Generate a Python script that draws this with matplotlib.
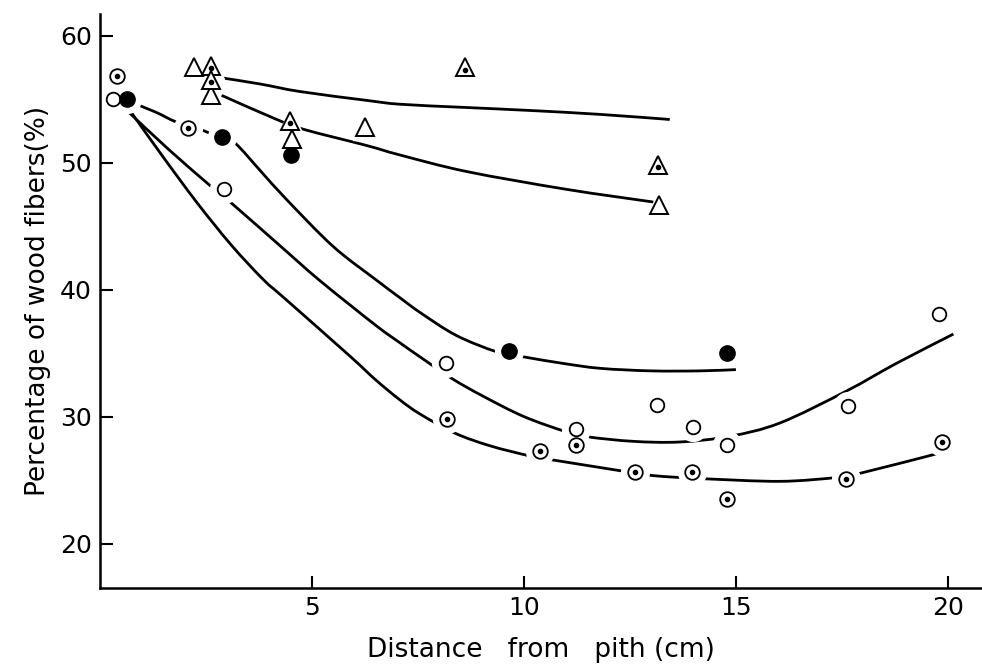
import matplotlib
matplotlib.use('Agg')
import matplotlib.pyplot as plt
from matplotlib.path import Path
from matplotlib.patches import PathPatch
from matplotlib.transforms import offset_copy

# measured points (distance from pith in cm, % wood fibers)
open_circle_x = [0.31, 2.92, 8.16, 11.22, 13.15, 13.98, 14.78, 17.65, 19.8]
open_circle_y = [55.0, 47.9, 34.2, 29.0, 30.9, 29.2, 27.8, 30.8, 38.1]

dot_circle_x = [0.39, 2.08, 8.18, 10.38, 11.22, 12.63, 13.96, 14.78, 17.6, 19.86]
dot_circle_y = [56.85, 52.7, 29.8, 27.3, 27.8, 25.6, 25.6, 23.5, 25.1, 28.0]

filled_x = [0.64, 2.89, 4.5, 9.65, 14.8]
filled_y = [55.0, 52.0, 50.6, 35.2, 35.0]

open_tri_x = [2.22, 2.63, 4.53, 6.25, 13.19]
open_tri_y = [57.5, 55.35, 51.9, 52.8, 46.7]

dot_tri_x = [2.63, 2.63, 4.48, 8.62, 13.17]
dot_tri_y = [57.6, 56.5, 53.3, 57.5, 49.8]

# fitted curves as drawn in the figure
curve_dot_tri_x = [2.83, 3.77, 4.72, 6.3, 7.08, 8.6, 10.2, 11.8, 13.44]
curve_dot_tri_y = [56.7, 56.2, 55.6, 54.9, 54.6, 54.35, 54.1, 53.8, 53.4]

curve_open_tri_x = [2.87, 4.17, 4.83, 6.29, 7.08, 8.65, 11.0, 13.05]
curve_open_tri_y = [55.3, 53.4, 52.6, 51.35, 50.6, 49.3, 47.9, 46.9]

curve_filled_x = [0.7, 1.3, 1.8, 2.3, 2.6, 2.9, 3.2, 3.8, 4.4, 5.5, 6.5, 7.1,
                  7.55, 8.4, 9.36, 10.0, 10.9, 11.8, 13.0, 14.15, 15.0]
curve_filled_y = [54.8, 54.0, 53.2, 52.7, 52.3, 51.9, 51.5, 49.3, 47.1, 43.4, 40.8, 39.3,
                  38.2, 36.4, 35.1, 34.7, 34.2, 33.8, 33.6, 33.6, 33.7]

curve_open_x = [0.67, 1.6, 2.63, 3.14, 4.3, 5.19, 6.5, 7.08, 7.55, 8.3, 9.04,
                10.0, 11.0, 11.52, 12.58, 13.68, 14.86, 16.04, 17.6, 18.79, 20.13]
curve_open_y = [54.0, 51.1, 48.1, 46.7, 43.3, 40.7, 37.2, 35.8, 34.7, 33.0, 31.6,
                30.0, 28.8, 28.4, 28.05, 28.0, 28.45, 29.5, 32.0, 34.2, 36.5]

curve_dot_x = [0.75, 1.5, 2.3, 3.1, 3.85, 4.36, 5.9, 6.5, 7.08, 7.55, 8.37,
               9.2, 10.14, 10.65, 12.34, 12.89, 13.68, 14.27, 16.04, 17.37, 17.89, 19.89]
curve_dot_y = [53.9, 50.4, 46.8, 43.5, 40.8, 39.3, 34.75, 32.9, 31.3, 30.2, 28.7,
               27.7, 26.9, 26.6, 25.7, 25.4, 25.2, 25.1, 24.9, 25.2, 25.5, 27.2]

# short link from the top dotted circle down to the first filled circle
link_x = [0.4, 0.75]
link_y = [56.8, 53.9]


def smooth_path(x, y):
    # Catmull-Rom through the read points, drawn as cubic Bezier segments
    pts = list(zip(x, y))
    n = len(pts)
    verts = [pts[0]]
    codes = [Path.MOVETO]
    for i in range(n - 1):
        p0 = pts[i - 1] if i > 0 else pts[i]
        p1 = pts[i]
        p2 = pts[i + 1]
        p3 = pts[i + 2] if i + 2 < n else pts[i + 1]
        c1 = (p1[0] + (p2[0] - p0[0]) / 6, p1[1] + (p2[1] - p0[1]) / 6)
        c2 = (p2[0] - (p3[0] - p1[0]) / 6, p2[1] - (p3[1] - p1[1]) / 6)
        verts += [c1, c2, p2]
        codes += [Path.CURVE4] * 3
    return Path(verts, codes)


fig = plt.figure(figsize=(9.82, 6.65), dpi=100)
ax = fig.add_axes([0.1018, 0.1158, 0.898, 0.863])

for cx, cy in [(curve_dot_tri_x, curve_dot_tri_y), (curve_open_tri_x, curve_open_tri_y),
               (curve_filled_x, curve_filled_y), (curve_open_x, curve_open_y),
               (curve_dot_x, curve_dot_y)]:
    ax.add_patch(PathPatch(smooth_path(cx, cy), fill=False, edgecolor='black',
                           lw=2.0, zorder=2, capstyle='butt'))
ax.plot(link_x, link_y, color='black', lw=2.0, zorder=2)

# white halos so the curves break around the symbols
for px, py in [(open_circle_x, open_circle_y), (dot_circle_x, dot_circle_y),
               (filled_x, filled_y)]:
    ax.plot(px, py, ls='none', marker='o', ms=20, mfc='white', mec='white', zorder=3)
for px, py in [(open_tri_x, open_tri_y), (dot_tri_x, dot_tri_y)]:
    ax.plot(px, py, ls='none', marker='^', ms=18, mfc='white', mec='white', zorder=3)

ax.plot(open_circle_x, open_circle_y, ls='none', marker='o', ms=9.8,
        mfc='white', mec='black', mew=1.3, zorder=4)
ax.plot(dot_circle_x, dot_circle_y, ls='none', marker='o', ms=10.5,
        mfc='white', mec='black', mew=1.3, zorder=4)
ax.plot(dot_circle_x, dot_circle_y, ls='none', marker='o', ms=3,
        color='black', zorder=5)
ax.plot(filled_x, filled_y, ls='none', marker='o', ms=11,
        color='black', zorder=4)
ax.plot(open_tri_x, open_tri_y, ls='none', marker='^', ms=13.5,
        mfc='white', mec='black', mew=1.4, zorder=4)
ax.plot(dot_tri_x, dot_tri_y, ls='none', marker='^', ms=13.5,
        mfc='white', mec='black', mew=1.4, zorder=4)
low = offset_copy(ax.transData, fig=fig, y=-1.5, units='points')
ax.plot(dot_tri_x, dot_tri_y, ls='none', marker='o', ms=3,
        color='black', zorder=5, transform=low)

ax.set_xlim(0, 20.8)
ax.set_ylim(16.5, 61.7)
ax.set_xticks([5, 10, 15, 20])
ax.set_yticks([20, 30, 40, 50, 60])
ax.tick_params(direction='in', length=9, width=1.5, labelsize=18, pad=6)
for s in ['top', 'right']:
    ax.spines[s].set_visible(False)
for s in ['left', 'bottom']:
    ax.spines[s].set_linewidth(1.8)
    ax.spines[s].set_zorder(3.5)

ax.set_xlabel('Distance   from   pith (cm)', fontsize=19, labelpad=12)
ax.set_ylabel('Percentage of wood fibers(%)', fontsize=19, labelpad=6)

fig.savefig('out.png', dpi=100)
